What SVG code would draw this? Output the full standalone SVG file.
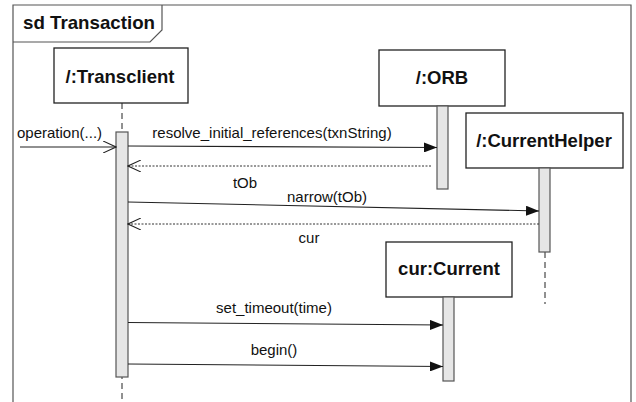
<svg xmlns="http://www.w3.org/2000/svg" width="636" height="402" viewBox="0 0 636 402">
<style>
.frame{fill:none;stroke:#555;stroke-width:1.2}
.box{fill:#fff;stroke:#222;stroke-width:1.3}
.act{fill:#e6e6e6;stroke:#555;stroke-width:1.2}
.life{stroke:#222;stroke-width:1;stroke-dasharray:6,4;fill:none}
.msg{stroke:#222;stroke-width:1.1;fill:none}
.ret{stroke:#333;stroke-width:1;stroke-dasharray:2,1.5;fill:none}
.title{font-family:"Liberation Sans",Arial,sans-serif;font-weight:bold;font-size:18.5px;fill:#111}
.lbl{font-family:"Liberation Sans",Arial,sans-serif;font-size:15px;fill:#111}
</style>
<defs>
<marker id="filled" markerWidth="14" markerHeight="10" refX="13" refY="5" orient="auto" markerUnits="userSpaceOnUse">
<path d="M0,0 L13,5 L0,10 z" fill="#111"/>
</marker>
<marker id="open" markerWidth="14" markerHeight="12" refX="13" refY="6" orient="auto" markerUnits="userSpaceOnUse">
<path d="M0,0 L13,6 L0,12" fill="none" stroke="#222" stroke-width="1.1"/>
</marker>
</defs>
<rect x="0" y="0" width="636" height="402" fill="#fff"/>
<g id="frame">
<path class="frame" d="M13,402 V5 H631 V402"/>
<path class="frame" d="M13,42 H150 L162,30 V5"/>
<text class="title" x="23" y="29" textLength="132" lengthAdjust="spacingAndGlyphs">sd Transaction</text>
</g>
<g id="transclient">
<line class="life" x1="122" y1="103" x2="122" y2="402"/>
<rect class="box" x="54" y="48" width="134" height="55"/>
<text class="title" x="120" y="83" text-anchor="middle">/:Transclient</text>
<rect class="act" x="116" y="132" width="12" height="245"/>
</g>
<g id="orb">
<rect class="box" x="379" y="50" width="126" height="56"/>
<text class="title" x="442" y="84" text-anchor="middle">/:ORB</text>
<rect class="act" x="437" y="106" width="11" height="83"/>
</g>
<g id="currenthelper">
<line class="life" x1="545" y1="252" x2="545" y2="304"/>
<rect class="box" x="466" y="113" width="157" height="55"/>
<text class="title" x="544" y="147" text-anchor="middle">/:CurrentHelper</text>
<rect class="act" x="539" y="168" width="11" height="84"/>
</g>
<g id="current">
<rect class="box" x="386" y="242" width="126" height="55"/>
<text class="title" x="449" y="275" text-anchor="middle">cur:Current</text>
<rect class="act" x="443" y="297" width="11" height="84"/>
</g>
<g id="connectors">
<line class="msg" x1="20" y1="147" x2="116" y2="147" marker-end="url(#open)"/>
<text class="lbl" x="17" y="138">operation(...)</text>
<line class="msg" x1="128" y1="146" x2="437" y2="147.5" marker-end="url(#filled)"/>
<text class="lbl" x="272" y="138" text-anchor="middle">resolve_initial_references(txnString)</text>
<line class="ret" x1="431" y1="166" x2="128" y2="166" marker-end="url(#open)"/>
<text class="lbl" x="245" y="188" text-anchor="middle">tOb</text>
<line class="msg" x1="128" y1="202" x2="539" y2="211" marker-end="url(#filled)"/>
<text class="lbl" x="327" y="202" text-anchor="middle">narrow(tOb)</text>
<line class="ret" x1="539" y1="224" x2="128" y2="224" marker-end="url(#open)"/>
<text class="lbl" x="309" y="243" text-anchor="middle">cur</text>
<line class="msg" x1="128" y1="322.5" x2="443" y2="325" marker-end="url(#filled)"/>
<text class="lbl" x="274" y="313" text-anchor="middle">set_timeout(time)</text>
<line class="msg" x1="128" y1="364" x2="443" y2="366.5" marker-end="url(#filled)"/>
<text class="lbl" x="274" y="355" text-anchor="middle">begin()</text>
</g>
</svg>
